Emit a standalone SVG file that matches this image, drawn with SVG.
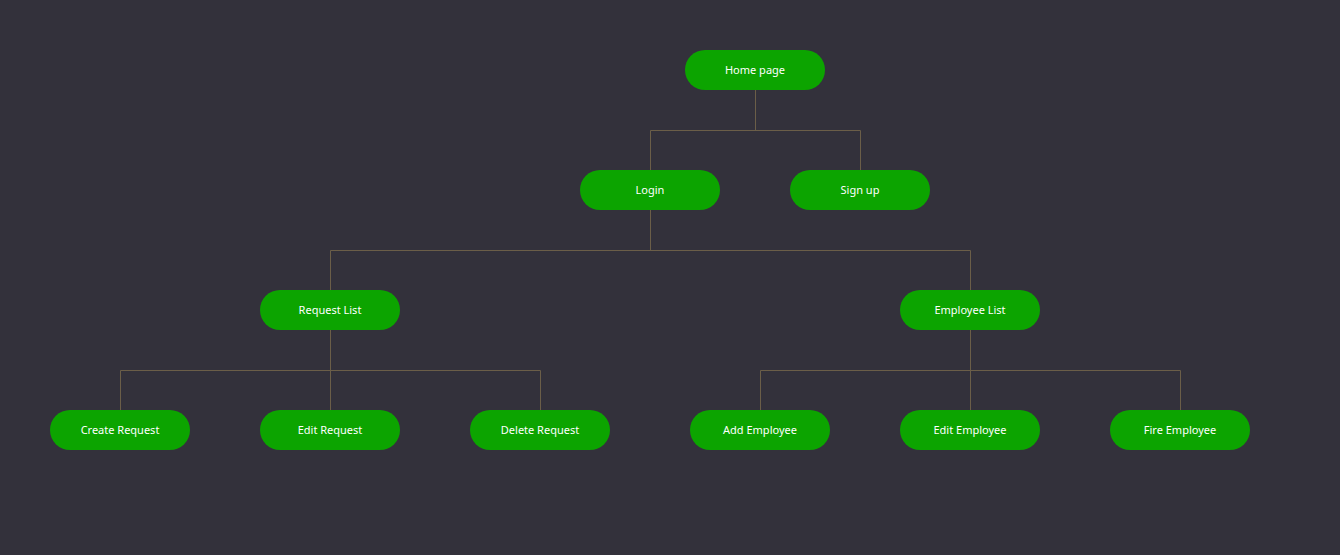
<svg xmlns="http://www.w3.org/2000/svg" width="1340" height="555" viewBox="0 0 1340 555">
  <style>
    .node rect { fill: #0ca400; }
    .node text { fill: #ffffff; font-family: "Noto Sans", "Open Sans", sans-serif; font-size: 11px; text-anchor: middle; dominant-baseline: central; }
    .links path { fill: none; stroke: #6b5e48; stroke-width: 1; }
  </style>
  <rect x="0" y="0" width="1340" height="555" fill="#33313b"/>

  <!-- tree connectors -->
  <g class="links">
    <path d="M755.5 90 V130.5 M650.5 170 V130.5 H860.5 V170"/>
    <path d="M650.5 210 V250.5 M330.5 290 V250.5 H970.5 V290"/>
    <path d="M330.5 330 V410 M120.5 410 V370.5 H540.5 V410"/>
    <path d="M970.5 330 V410 M760.5 410 V370.5 H1180.5 V410"/>
  </g>

  <g id="home" class="node"><rect x="685" y="50" width="140" height="40" rx="20"/><text x="755" y="69">Home page</text></g>
  <g id="login" class="node"><rect x="580" y="170" width="140" height="40" rx="20"/><text x="650" y="189">Login</text></g>
  <g id="signup" class="node"><rect x="790" y="170" width="140" height="40" rx="20"/><text x="860" y="189">Sign up</text></g>
  <g id="request-list" class="node"><rect x="260" y="290" width="140" height="40" rx="20"/><text x="330" y="309">Request List</text></g>
  <g id="employee-list" class="node"><rect x="900" y="290" width="140" height="40" rx="20"/><text x="970" y="309">Employee List</text></g>
  <g id="create-request" class="node"><rect x="50" y="410" width="140" height="40" rx="20"/><text x="120" y="429">Create Request</text></g>
  <g id="edit-request" class="node"><rect x="260" y="410" width="140" height="40" rx="20"/><text x="330" y="429">Edit Request</text></g>
  <g id="delete-request" class="node"><rect x="470" y="410" width="140" height="40" rx="20"/><text x="540" y="429">Delete Request</text></g>
  <g id="add-employee" class="node"><rect x="690" y="410" width="140" height="40" rx="20"/><text x="760" y="429">Add Employee</text></g>
  <g id="edit-employee" class="node"><rect x="900" y="410" width="140" height="40" rx="20"/><text x="970" y="429">Edit Employee</text></g>
  <g id="fire-employee" class="node"><rect x="1110" y="410" width="140" height="40" rx="20"/><text x="1180" y="429">Fire Employee</text></g>
</svg>
